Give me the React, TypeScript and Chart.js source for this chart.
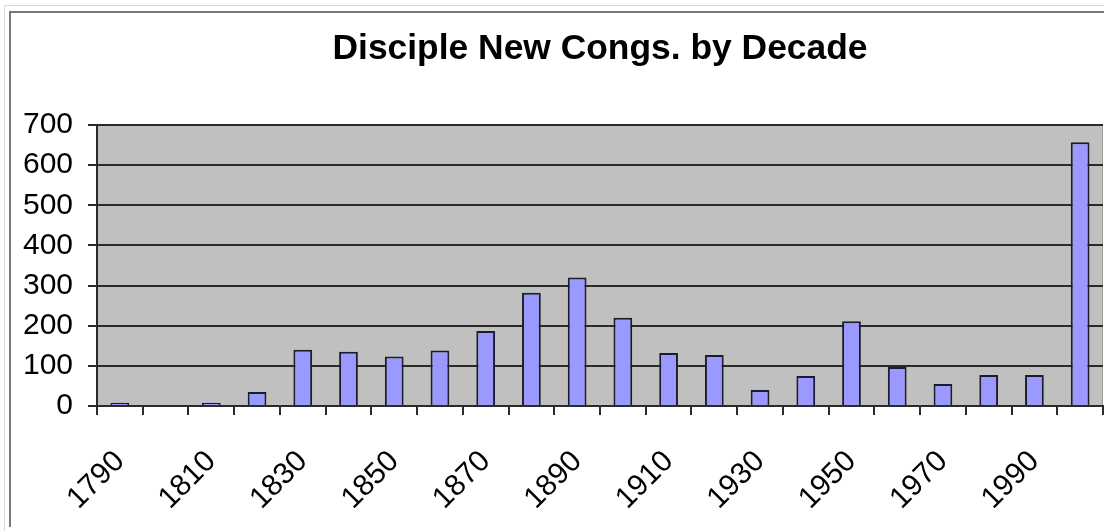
import React, { useEffect, useRef } from 'react';
import { Chart, registerables } from 'chart.js';

Chart.register(...registerables);

const chartTitle = 'Disciple New Congs. by Decade';
const decades = ['1790', '1800', '1810', '1820', '1830', '1840', '1850', '1860', '1870', '1880', '1890',
  '1900', '1910', '1920', '1930', '1940', '1950', '1960', '1970', '1980', '1990', '2000'];
const newCongs = [8, 2, 8, 35, 140, 135, 123, 138, 187, 282, 320, 220, 132, 127, 40, 75, 211, 97, 55, 77, 77, 657];
const xTickLabels = ['1790', '1810', '1830', '1850', '1870', '1890', '1910', '1930', '1950', '1970', '1990'];
const yMin = 0;
const yMax = 700;
const yStep = 100;

const FONT = '"Liberation Sans", Arial, sans-serif';

const framePlugin = {
  id: 'frameAndPlotBg',
  beforeDraw(chart: any) {
    const { ctx, chartArea: a, width, height } = chart;
    ctx.save();
    ctx.fillStyle = '#ffffff';
    ctx.fillRect(0, 0, width, height);
    ctx.strokeStyle = '#d3d8de';
    ctx.lineWidth = 1;
    ctx.beginPath();
    ctx.moveTo(4.5, height);
    ctx.lineTo(4.5, 5.5);
    ctx.lineTo(width, 5.5);
    ctx.stroke();
    ctx.strokeStyle = '#777777';
    ctx.lineWidth = 2;
    ctx.beginPath();
    ctx.moveTo(10, 527);
    ctx.lineTo(10, 12);
    ctx.lineTo(width, 12);
    ctx.stroke();
    ctx.fillStyle = '#c0c0c0';
    ctx.fillRect(a.left, a.top, a.right - a.left, a.bottom - a.top);
    ctx.strokeStyle = '#9a9a9a';
    ctx.lineWidth = 1;
    ctx.beginPath();
    ctx.moveTo(a.right - 0.5, a.top);
    ctx.lineTo(a.right - 0.5, a.bottom);
    ctx.stroke();
    ctx.restore();
  },
};

export default function App() {
  const ref = useRef<HTMLCanvasElement | null>(null);

  useEffect(() => {
    if (!ref.current) return;
    const chart = new Chart(ref.current, {
      type: 'bar',
      data: {
        labels: decades,
        datasets: [
          {
            data: newCongs,
            backgroundColor: '#9999ff',
            borderColor: '#1c1c2c',
            borderWidth: 2,
            categoryPercentage: 1,
            barPercentage: 0.41,
          },
        ],
      },
      options: {
        animation: false,
        responsive: false,
        layout: { padding: { left: 0, right: 1, top: 0, bottom: 0 } },
        plugins: {
          legend: { display: false },
          tooltip: { enabled: false },
          title: {
            display: true,
            text: chartTitle,
            fullSize: false,
            color: '#000',
            font: { family: FONT, size: 35.4, weight: 'bold', lineHeight: 1.2 },
            padding: { top: 28, bottom: 54.5 },
          },
        },
        scales: {
          x: {
            grid: {
              display: true,
              drawOnChartArea: false,
              drawTicks: true,
              tickLength: 9,
              color: '#2a2a2a',
              lineWidth: 2,
              offset: true,
            },
            border: { display: true, color: '#2a2a2a', width: 2 },
            ticks: {
              autoSkip: false,
              minRotation: 45,
              maxRotation: 45,
              padding: 29,
              color: '#000',
              font: { family: FONT, size: 30 },
              callback: (_v: any, i: number) => (xTickLabels.includes(decades[i]) ? decades[i] : ''),
            },
            afterFit: (s: any) => {
              s.height = 125;
              s.paddingLeft = 0;
              s.paddingRight = 0;
            },
          },
          y: {
            min: yMin,
            max: yMax,
            grid: { color: '#2a2a2a', lineWidth: 2, tickLength: 9 },
            border: { display: true, color: '#2a2a2a', width: 2 },
            ticks: {
              stepSize: yStep,
              padding: 15,
              color: '#000',
              font: { family: FONT, size: 30 },
            },
            afterFit: (s: any) => {
              s.width = 97;
              s.paddingTop = 0;
              s.paddingBottom = 0;
            },
          },
        },
      },
      plugins: [framePlugin],
    } as any);
    return () => chart.destroy();
  }, []);

  return (
    <div style={{ position: 'absolute', left: 0, top: 0, width: 1104, height: 531 }}>
      <canvas ref={ref} width={1104} height={531} style={{ display: 'block', width: 1104, height: 531 }} />
    </div>
  );
}
